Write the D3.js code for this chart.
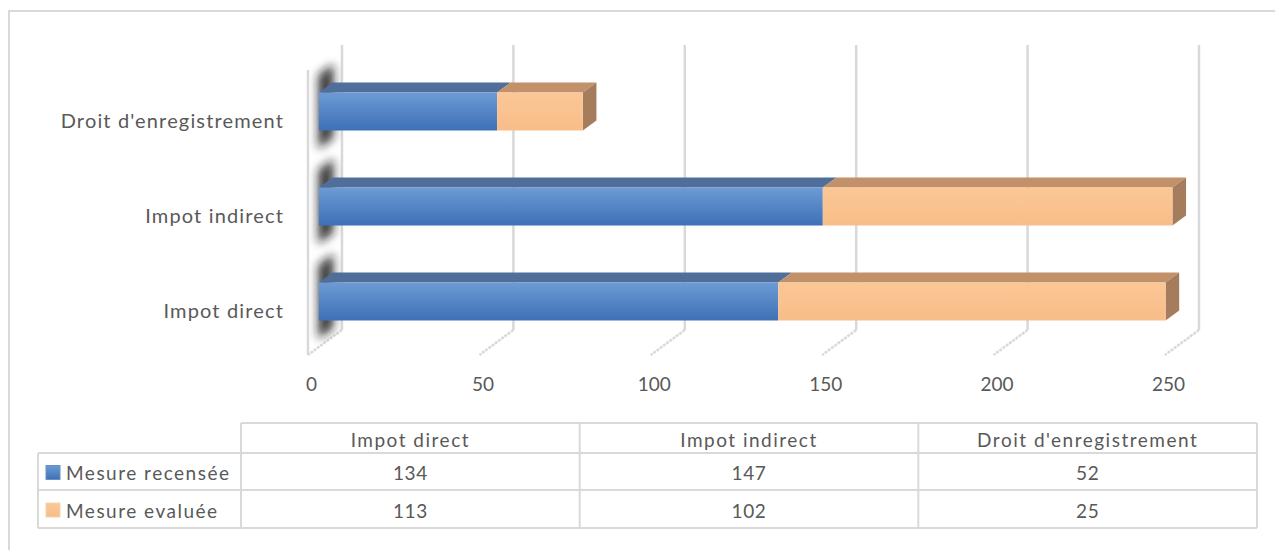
<!DOCTYPE html>
<html>
<head>
<meta charset="utf-8">
<script src="https://cdn.jsdelivr.net/npm/d3@7"></script>
<style>
body{margin:0;background:#fff}
svg{display:block}
text{font-family:Lato,"Open Sans",sans-serif;fill:#595959}
</style>
</head>
<body>
<svg id="chart" width="1275" height="550"></svg>
<script>
// data
var categories = ["Impot direct","Impot indirect","Droit d'enregistrement"];
var seriesNames = ["Mesure recensée","Mesure evaluée"];
var recensee = [134,147,52];
var evaluee = [113,102,25];
var xTicks = [0,50,100,150,200,250];

// 3d box geometry (oblique projection)
var floorY=355, wallTop=70, depthX=34, depthY=-25;
var zFront=0.32, zBack=0.72;
var gridCol="#d9d9d9";

var svg=d3.select("#chart");
var defs=svg.append("defs");

var x=d3.scaleLinear().domain([0,250]).range([308,1165]);
var y=d3.scaleBand().domain(categories).range([357,72]).paddingInner(0.6).paddingOuter(0.3);

function P(v,yy,z){return [x(v)+z*depthX, yy+z*depthY];}
function pts(a){return a.map(function(p){return p.join(",");}).join(" ");}

var gb=defs.append("linearGradient").attr("id","gBlue").attr("x1",0).attr("y1",0).attr("x2",0).attr("y2",1);
gb.append("stop").attr("offset","0%").attr("stop-color","#6e9bd5");
gb.append("stop").attr("offset","100%").attr("stop-color","#3d70b6");
var go=defs.append("linearGradient").attr("id","gOrange").attr("x1",0).attr("y1",0).attr("x2",0).attr("y2",1);
go.append("stop").attr("offset","0%").attr("stop-color","#fbc796");
go.append("stop").attr("offset","100%").attr("stop-color","#f8bd88");
defs.append("filter").attr("id","blur").attr("x","-50%").attr("y","-50%").attr("width","200%").attr("height","200%")
  .append("feGaussianBlur").attr("stdDeviation",5);

var wallPoly=[P(0,wallTop,0),P(0,wallTop,1),P(0,floorY,1),P(0,floorY,0)];
defs.append("clipPath").attr("id","wallClip").append("polygon").attr("points",pts(wallPoly));

// outer border
svg.append("rect").attr("x",9).attr("y",11).attr("width",1300).attr("height",600)
  .attr("fill","none").attr("stroke",gridCol).attr("stroke-width",2);

// back wall gridlines
svg.selectAll("line.grid").data(xTicks).enter().append("line").attr("class","grid")
  .attr("x1",function(d){return P(d,wallTop,1)[0];}).attr("x2",function(d){return P(d,floorY,1)[0];})
  .attr("y1",function(d){return P(d,wallTop,1)[1];}).attr("y2",function(d){return P(d,floorY,1)[1];})
  .attr("stroke",gridCol).attr("stroke-width",2.5);
// floor lines
svg.selectAll("line.floor").data(xTicks).enter().append("line").attr("class","floor")
  .attr("x1",function(d){return P(d,floorY,1)[0];}).attr("x2",function(d){return P(d,floorY,0)[0];})
  .attr("y1",function(d){return P(d,floorY,1)[1];}).attr("y2",function(d){return P(d,floorY,0)[1];})
  .attr("stroke",gridCol).attr("stroke-width",2.5).attr("stroke-dasharray","3,1");
// side wall front edge
svg.append("line").attr("x1",x(0)).attr("x2",x(0)).attr("y1",wallTop).attr("y2",floorY)
  .attr("stroke",gridCol).attr("stroke-width",2.5);

// shadows on side wall
var sh=svg.append("g").attr("clip-path","url(#wallClip)").append("g").attr("filter","url(#blur)");
categories.forEach(function(c){
  var y0=y(c)-18, y1=y(c)+y.bandwidth()+18;
  sh.append("polygon").attr("points",pts([P(0,y0,0.3),P(0,y0,0.75),P(0,y1,0.75),P(0,y1,0.3)]))
    .attr("fill","#1a1a1a").attr("opacity",0.85);
});

// bars
var table=categories.map(function(c,i){return {cat:c,rec:recensee[i],eva:evaluee[i]};});
var stack=d3.stack().keys(["rec","eva"])(table);
var fronts=["url(#gBlue)","url(#gOrange)"], tops=["#4f6e99","#c29069"], sides=["#3c5d8a","#a67d5c"];
stack.forEach(function(layer,k){
  var g=svg.append("g");
  layer.forEach(function(d){
    var c=d.data.cat, y0=y(c), y1=y(c)+y.bandwidth();
    g.append("polygon").attr("points",pts([P(d[0],y0,zFront),P(d[1],y0,zFront),P(d[1],y0,zBack),P(d[0],y0,zBack)]))
      .attr("fill",tops[k]);
    if(k==stack.length-1){
      g.append("polygon").attr("points",pts([P(d[1],y0,zFront),P(d[1],y0,zBack),P(d[1],y1,zBack),P(d[1],y1,zFront)]))
        .attr("fill",sides[k]);
    }
    var a=P(d[0],y0,zFront), b=P(d[1],y1,zFront);
    g.append("rect").attr("x",a[0]).attr("y",a[1]).attr("width",b[0]-a[0]).attr("height",b[1]-a[1])
      .attr("fill",fronts[k]);
  });
});

// x tick labels
var xa=svg.append("g").attr("transform","translate(3,377)")
  .call(d3.axisBottom(x).tickValues(xTicks).tickSize(0).tickPadding(0));
xa.select(".domain").remove();
xa.selectAll("text").attr("font-size",19).attr("fill","#595959").attr("font-family",null);

// category labels
var ya=svg.append("g").attr("transform","translate(284,2)")
  .call(d3.axisLeft(y).tickSize(0).tickPadding(0));
ya.select(".domain").remove();
ya.selectAll("text").attr("font-size",20).attr("fill","#595959").attr("font-family",null).attr("letter-spacing",1.15);

// data table
var tLeft=38, tRight=1257, colStart=241, rowY=[423,453,490,528];
var col=d3.scaleBand().domain(categories).range([colStart,tRight]);
var tg=svg.append("g");
var lineAttr=function(s){s.attr("stroke",gridCol).attr("stroke-width",2).attr("fill","none");};
tg.append("line").attr("x1",colStart).attr("x2",tRight).attr("y1",rowY[0]).attr("y2",rowY[0]).call(lineAttr);
[1,2,3].forEach(function(i){
  tg.append("line").attr("x1",tLeft).attr("x2",tRight).attr("y1",rowY[i]).attr("y2",rowY[i]).call(lineAttr);
});
tg.append("line").attr("x1",tLeft).attr("x2",tLeft).attr("y1",rowY[1]).attr("y2",rowY[3]).call(lineAttr);
categories.concat([null]).forEach(function(c){
  var xx=c?col(c):tRight;
  tg.append("line").attr("x1",xx).attr("x2",xx).attr("y1",rowY[0]).attr("y2",rowY[3]).call(lineAttr);
});
tg.selectAll("text.hd").data(categories).enter().append("text").attr("class","hd")
  .attr("x",function(d){return col(d)+col.bandwidth()/2;}).attr("y",(rowY[0]+rowY[1])/2+1)
  .attr("text-anchor","middle").attr("dominant-baseline","central").attr("font-size",19).attr("letter-spacing",1.5)
  .text(function(d){return d;});
var rows=[recensee,evaluee];
var keyFill=["url(#gBlue)","url(#gOrange)"];
rows.forEach(function(vals,r){
  var cy=(rowY[r+1]+rowY[r+2])/2+1;
  tg.append("rect").attr("x",46).attr("y",cy-7).attr("width",14).attr("height",14)
    .attr("fill",keyFill[r]).attr("stroke",r==0?"#6a8fc4":"#f3d3b2").attr("stroke-width",1);
  tg.append("text").attr("x",66).attr("y",cy).attr("dominant-baseline","central")
    .attr("font-size",19).attr("letter-spacing",1.5).text(seriesNames[r]);
  tg.selectAll("text.r"+r).data(vals).enter().append("text").attr("class","r"+r)
    .attr("x",function(d,i){return col(categories[i])+col.bandwidth()/2;}).attr("y",cy)
    .attr("text-anchor","middle").attr("dominant-baseline","central").attr("font-size",19).attr("letter-spacing",0.6)
    .text(function(d){return d;});
});
</script>
</body>
</html>
